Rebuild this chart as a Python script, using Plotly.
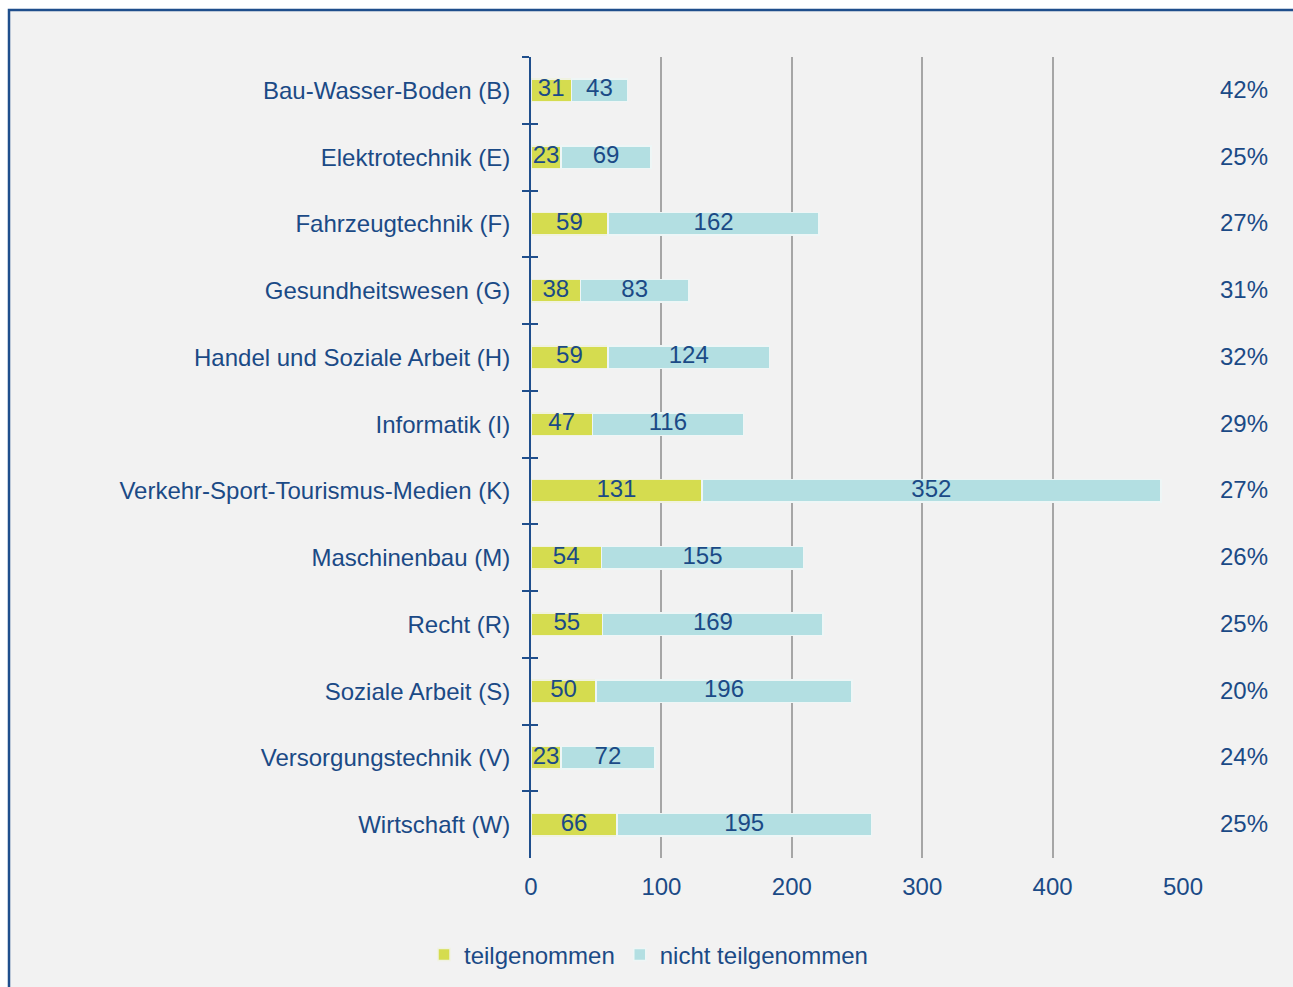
import plotly.graph_objects as go

categories = ["Bau-Wasser-Boden (B)", "Elektrotechnik (E)", "Fahrzeugtechnik (F)",
              "Gesundheitswesen (G)", "Handel und Soziale Arbeit (H)", "Informatik (I)",
              "Verkehr-Sport-Tourismus-Medien (K)", "Maschinenbau (M)", "Recht (R)",
              "Soziale Arbeit (S)", "Versorgungstechnik (V)", "Wirtschaft (W)"]
teilgenommen = [31, 23, 59, 38, 59, 47, 131, 54, 55, 50, 23, 66]
nicht_teilgenommen = [43, 69, 162, 83, 124, 116, 352, 155, 169, 196, 72, 195]
percent_labels = ["42%", "25%", "27%", "31%", "32%", "29%", "27%", "26%", "25%", "20%", "24%", "25%"]
x_ticks = [0, 100, 200, 300, 400, 500]

TXT = "#1b4a86"
FONT = "Liberation Sans, Arial, sans-serif"
FS = 24

fig = go.Figure()
fig.add_trace(go.Bar(
    y=categories, x=teilgenommen, orientation="h", name="teilgenommen",
    marker=dict(color="#d5dc4f", line=dict(color="#f0f2e0", width=1.5)),
    textposition="none", hoverinfo="skip"))
fig.add_trace(go.Bar(
    y=categories, x=nicht_teilgenommen, orientation="h", name="nicht teilgenommen",
    marker=dict(color="#b3dfe2", line=dict(color="#eef6f6", width=1.5)),
    textposition="none", hoverinfo="skip"))

# value labels centred in each segment
mid_t = [t / 2 for t in teilgenommen]
mid_n = [t + n / 2 for t, n in zip(teilgenommen, nicht_teilgenommen)]
fig.add_trace(go.Scatter(x=mid_t + mid_n, y=categories + categories, mode="text",
                         text=[str(v) for v in teilgenommen + nicht_teilgenommen],
                         textposition="middle center",
                         textfont=dict(color=TXT, size=FS, family=FONT),
                         showlegend=False, hoverinfo="skip", cliponaxis=False))

# invisible trace for overlay axis (inside ticks)
fig.add_trace(go.Bar(y=categories, x=[0] * len(categories), orientation="h",
                     yaxis="y2", showlegend=False, hoverinfo="skip",
                     marker=dict(color="rgba(0,0,0,0)")))

W, H = 1293, 987
L, R, T, B = 531, 110, 57, 129
pw, ph = W - L - R, H - T - B
n = len(categories)

for cat, p in zip(categories, percent_labels):
    fig.add_annotation(x=(1270 - L) / pw, xref="paper", y=cat, yref="y",
                       text=p, showarrow=False, xanchor="right", yshift=1,
                       font=dict(color=TXT, size=FS, family=FONT))

fig.add_shape(type="rect", xref="paper", yref="paper", layer="below",
              x0=(9 - L) / pw, x1=1.5, y0=-0.5, y1=1 + (T - 10) / ph,
              fillcolor="#f2f2f2", line=dict(color="#1f4e8c", width=2.5))

fig.update_layout(
    width=W, height=H, barmode="stack", bargap=0.66,
    paper_bgcolor="white", plot_bgcolor="rgba(0,0,0,0)",
    margin=dict(l=L, r=R, t=T, b=B, autoexpand=False),
    font=dict(family=FONT, color=TXT, size=FS),
    xaxis=dict(range=[0, 500], tickvals=x_ticks, showgrid=True,
               gridcolor="#a6a6a6", gridwidth=2, zeroline=False,
               showline=False, ticks="", ticklabelstandoff=12, automargin=False,
               tickfont=dict(color=TXT, size=FS, family=FONT), fixedrange=True),
    yaxis=dict(range=[n - 0.5, -0.5], categoryorder="array", categoryarray=categories,
               showline=True, linecolor="#1f4e8c", automargin=False,
               linewidth=2, ticks="outside", tickson="boundaries", ticklen=7,
               tickwidth=2, tickcolor="#1f4e8c", ticklabelstandoff=14,
               showgrid=False, tickfont=dict(color=TXT, size=FS, family=FONT)),
    yaxis2=dict(overlaying="y", matches="y", side="left", anchor="x",
                showline=False, ticks="inside", tickson="boundaries", ticklen=7,
                tickwidth=2, tickcolor="#1f4e8c", showticklabels=False,
                showgrid=False),
    legend=dict(orientation="h", x=(424 - L) / pw, xanchor="left",
                y=(T + ph - 955) / ph, yanchor="middle",
                font=dict(color=TXT, size=FS, family=FONT),
                bgcolor="rgba(0,0,0,0)", itemwidth=30, traceorder="normal"),
    showlegend=True,
)

fig.write_html("out.html", config={"displayModeBar": False},
               post_script="document.body.style.margin='0';document.body.style.overflow='hidden';")
